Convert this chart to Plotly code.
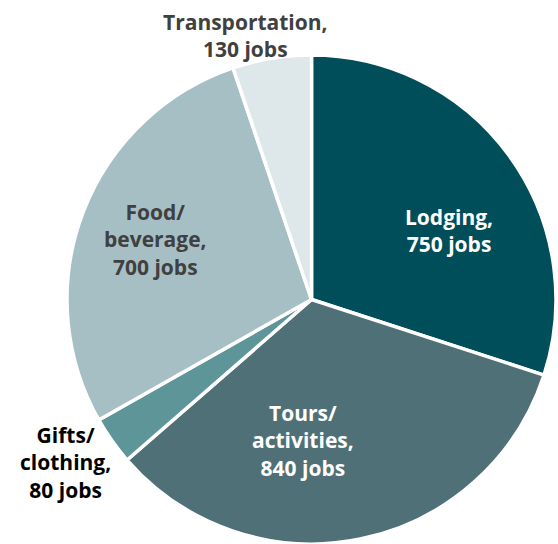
import plotly.graph_objects as go

categories = ["Lodging", "Tours/ activities", "Gifts/ clothing", "Food/ beverage", "Transportation"]
jobs = [750, 840, 80, 700, 130]
label_texts = ["Lodging,<br>750 jobs", "Tours/<br>activities,<br>840 jobs", "Gifts/<br>clothing,<br>80 jobs",
               "Food/<br>beverage,<br>700 jobs", "Transportation,<br>130 jobs"]
colors = ["#004E5A", "#4F7077", "#5E9599", "#A6BFC4", "#DEE7E9"]
text_colors = ["#FFFFFF", "#FFFFFF", "#000000", "#404040", "#404040"]
# label centres in pixels (x, y)
label_pos = [(449, 231), (303, 440), (65, 462), (155, 239), (245, 35)]

W, H = 558, 544

fig = go.Figure(go.Pie(
    labels=categories,
    values=jobs,
    sort=False,
    direction="clockwise",
    rotation=0,
    marker=dict(colors=colors, line=dict(color="white", width=3.5)),
    textinfo="none",
    hoverinfo="label+value",
    showlegend=False,
    domain=dict(x=[65 / W, 1.0], y=[0.0, 1 - 55 / H]),
))

for t, c, (px, py) in zip(label_texts, text_colors, label_pos):
    fig.add_annotation(
        x=px / W, y=1 - py / H, xref="paper", yref="paper",
        text=t, showarrow=False, xanchor="center", yanchor="middle",
        align="center",
        font=dict(family="Open Sans", size=21, color=c, weight="bold"),
    )

fig.update_layout(
    width=W, height=H,
    margin=dict(l=0, r=0, t=0, b=0),
    paper_bgcolor="white",
    plot_bgcolor="white",
)

fig.write_html("out.html")
